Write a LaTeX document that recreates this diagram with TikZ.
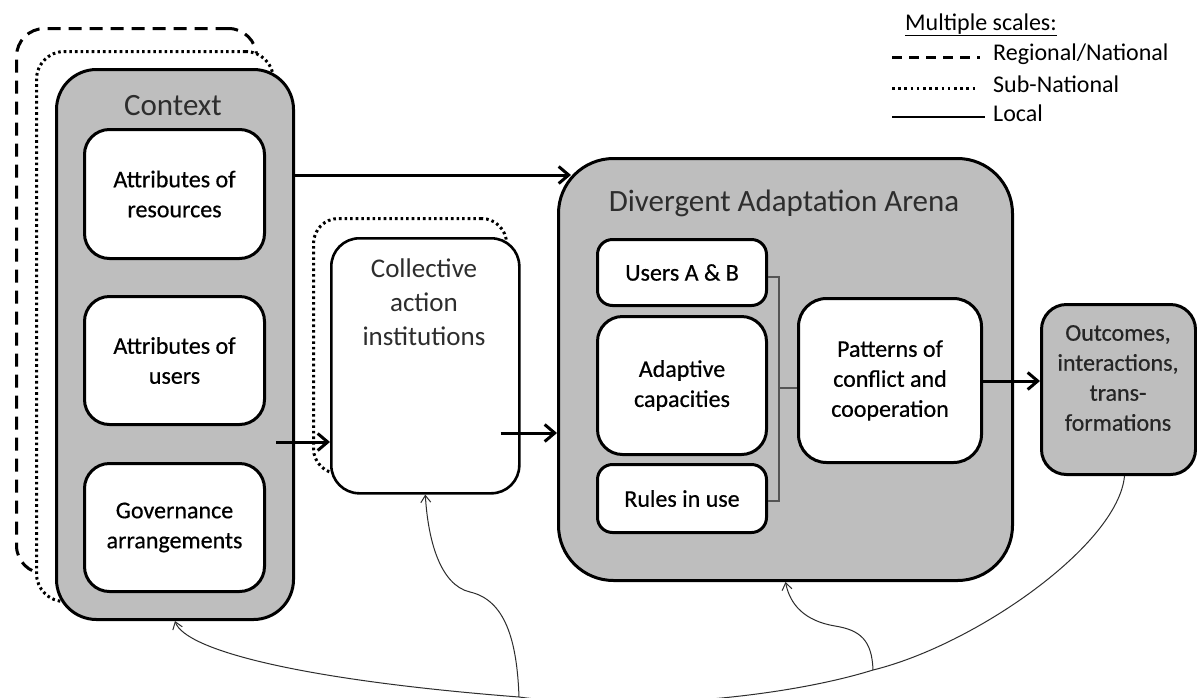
\documentclass[tikz,border=0pt]{standalone}
\usepackage{fontspec}
\setmainfont{Carlito}
\newfontfamily\labelfont[FakeBold=0.5]{Carlito}
\usetikzlibrary{arrows.meta,calc}
\definecolor{panelgray}{RGB}{190,190,190}
\definecolor{inkgray}{RGB}{45,45,45}
\definecolor{bracegray}{RGB}{85,85,85}

\begin{document}
\begin{tikzpicture}[x=1pt,y=-1pt,
  panel/.style={draw=black, line width=3pt, fill=panelgray, inner sep=0pt, anchor=north west},
  card/.style={draw=black, line width=3pt, fill=white, inner sep=0pt, anchor=north west,
    align=center, font=\labelfont\fontsize{24}{30}\selectfont},
  scaleframe/.style={draw=black, fill=white, line width=3pt, inner sep=0pt, anchor=north west},
  regional/.style={scaleframe, dash pattern=on 13pt off 8pt},
  subnational/.style={scaleframe, dash pattern=on 2.6pt off 3pt},
  titletext/.style={font=\fontsize{31}{36}\selectfont, text=inkgray},
  bigarrow/.style={line width=3pt, -{Straight Barb[length=10pt,width=17pt]}},
  feedback/.style={line width=1pt, draw=inkgray, -{Straight Barb[length=7pt,width=10pt]}},
  bracket/.style={line width=1.5pt, draw=bracegray},
  legendtext/.style={anchor=west, font=\fontsize{24}{28}\selectfont, inner sep=0pt}
]
\useasboundingbox (0,0) rectangle (1197,697);
\fill[white] (0,0) rectangle (1197,697);
\clip (0,0) rectangle (1197,697);

% ---- scale frames behind the context panel
\node[regional, rounded corners=28pt, minimum width=240pt, minimum height=545pt] (regionalframe) at (15,27) {};
\node[subnational, rounded corners=28pt, minimum width=237pt, minimum height=550pt] (subnatframe) at (35,50) {};

% ---- context panel
\node[panel, rounded corners=40pt, minimum width=237pt, minimum height=550pt] (context) at (55,68) {};
\node[titletext] (contexttitle) at (173,106) {Context};
\node[card, rounded corners=25pt, minimum width=180pt, minimum height=129pt] (resources) at (83,128) {Attributes of\\resources};
\node[card, rounded corners=25pt, minimum width=180pt, minimum height=128pt] (users) at (83,295) {Attributes of\\users};
\node[card, rounded corners=25pt, minimum width=180pt, minimum height=128pt] (governance) at (83,462) {Governance\\arrangements};

% ---- collective action institutions
\node[subnational, rounded corners=25pt, minimum width=193pt, minimum height=255pt] (collectiveframe) at (312,217) {};
\node[card, line width=2.6pt, rounded corners=28pt, minimum width=188pt, minimum height=255pt] (collective) at (330,237) {};
\node[font=\fontsize{27}{34}\selectfont, text=inkgray, align=center] (collectivetext) at (424,302) {Collective\\action\\institutions};

% ---- divergent adaptation arena
\node[panel, rounded corners=55pt, minimum width=454pt, minimum height=422pt] (arena) at (557,157) {};
\node[titletext] (arenatitle) at (784,203) {Divergent Adaptation Arena};
\node[card, rounded corners=15pt, minimum width=169pt, minimum height=66pt] (usersab) at (596,238) {Users A \& B};
\node[card, rounded corners=25pt, minimum width=169pt, minimum height=138pt] (adaptive) at (596,315) {Adaptive\\capacities};
\node[card, rounded corners=15pt, minimum width=169pt, minimum height=68pt] (rules) at (596,463) {Rules in use};
\node[card, rounded corners=28pt, minimum width=183pt, minimum height=164pt] (patterns) at (797,297) {Patterns of\\conflict and\\cooperation};

% bracket joining the three arena components
\coordinate (bracejoin) at (779,388);
\draw[bracket] (usersab.east |- 0,277) -| (bracejoin) |- (rules.east |- 0,501);
\draw[bracket] (bracejoin) -- (patterns.west |- bracejoin);

% ---- outcomes
\node[panel, rounded corners=25pt, minimum width=154pt, minimum height=170pt] (outcomes) at (1040,303) {};
\node[font=\labelfont\fontsize{24}{30}\selectfont, text=black!85, align=center] (outcomestext) at (1118,378) {Outcomes,\\interactions,\\trans-\\formations};

% ---- main flow arrows
\coordinate (toprow) at (0,175);
\coordinate (midrow) at (0,442);
\coordinate (lowrow) at (0,433);
\coordinate (outrow) at (0,381);
\draw[bigarrow] (context.east |- toprow) -- ($(arena.west |- toprow)+(14,0)$);
\draw[bigarrow] ($(context.east |- midrow)+(-19,0)$) -- (collective.west |- midrow);
\draw[bigarrow] ($(collective.east |- lowrow)+(-20,0)$) -- (arena.west |- lowrow);
\draw[bigarrow] (patterns.east |- outrow) -- (outcomes.west |- outrow);

% ---- feedback loops along the bottom
\coordinate (lowjoin) at (519,697);
\coordinate (rightjoin) at (873,670);
\coordinate (collectiveknee) at (470,592);
\coordinate (arenaknee) at (835,626);
\draw[feedback] ($(outcomes.south)+(6,0)$) .. controls (1118,545) and (975,645) .. (rightjoin)
  .. controls (783,698) and (629,712) .. (lowjoin)
  .. controls (300,680) and (185,650) .. (context.south);
\draw[feedback] (lowjoin) .. controls (517,640) and (505,600) .. (collectiveknee)
  .. controls (440,585) and (428,540) .. (collective.south);
\draw[feedback] (rightjoin) .. controls (872,640) and (860,630) .. (arenaknee)
  .. controls (805,621) and (790,605) .. (arena.south);

% ---- legend
\node[legendtext, anchor=center] (legendtitle) at (981,25) {\underline{Multiple scales:}};
\node[legendtext] (regionaltext) at (993,54) {Regional/National};
\node[legendtext] (subnattext) at (993,84) {Sub-National};
\node[legendtext] (localtext) at (993,113) {Local};
\coordinate (dashstart) at (892,57);
\coordinate (dotstart) at (892,88);
\coordinate (solidstart) at (892,117);
\draw[line width=3pt, dash pattern=on 10pt off 7pt] (dashstart) -- ($(regionaltext.west |- dashstart)+(-13,0)$);
\draw[line width=3pt, dash pattern=on 2.6pt off 3.6pt] (dotstart) -- ($(subnattext.west |- dotstart)+(-16,0)$);
\draw[line width=2.5pt] (solidstart) -- ($(localtext.west |- solidstart)+(-8,0)$);
\end{tikzpicture}
\end{document}
